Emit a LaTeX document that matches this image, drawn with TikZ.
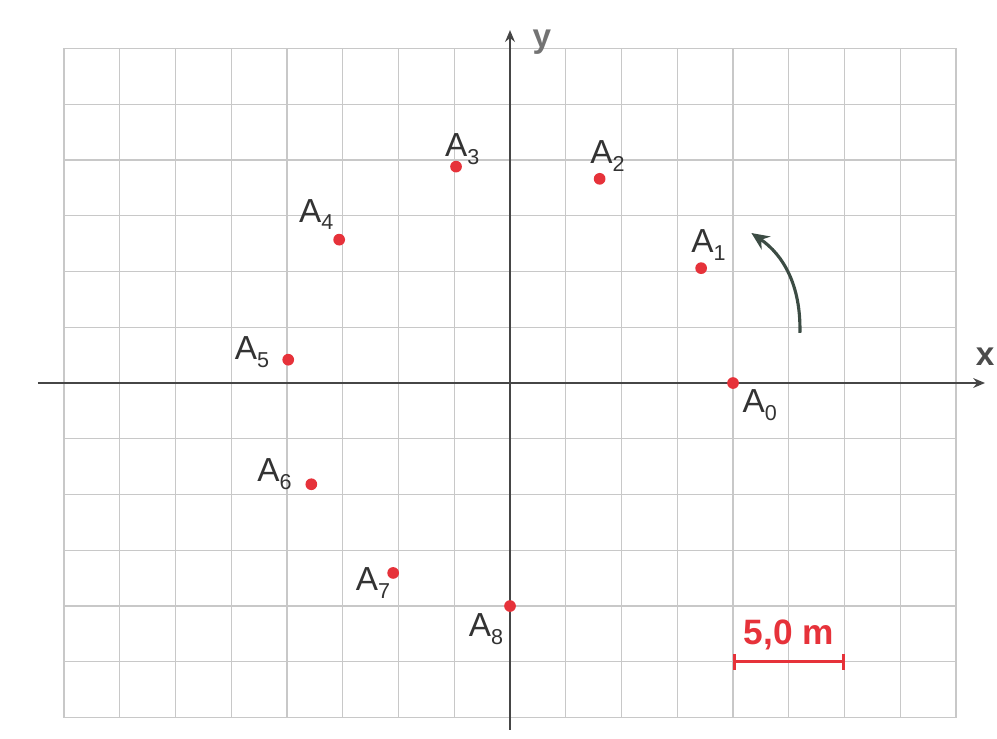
\documentclass[tikz,border=0pt]{standalone}
\usepackage{fontspec}
\setmainfont{Liberation Sans}
\usetikzlibrary{arrows.meta,calc}
\definecolor{gridgray}{RGB}{200,200,200}
\definecolor{axisgray}{RGB}{70,70,70}
\definecolor{ptred}{RGB}{230,50,58}
\definecolor{arrowgreen}{RGB}{60,76,68}
\newcommand{\Alab}[1]{A\raisebox{-4pt}{\fontsize{11}{11}\selectfont #1}}

\begin{document}
\begin{tikzpicture}[>=Stealth,
    pt/.style={circle, fill=ptred, inner sep=0pt, minimum size=0.21cm},
    lbl/.style={text=black!80, font=\fontsize{17}{19}\selectfont, inner sep=0pt}]
    \useasboundingbox (-9.148,-6.368) rectangle (8.735,6.870);

    % quadrillage
    \draw[gridgray, line width=0.6pt] (-8,-6) grid (8,6);

    % axes
    \draw[-{Stealth[length=6pt,width=5pt]}, axisgray, line width=1pt] (-8.47,0) -- (8.52,0);
    \draw[-{Stealth[length=6pt,width=5pt]}, axisgray, line width=1pt] (0,-6.22) -- (0,6.33);
    \node[text=black!70, font=\bfseries\fontsize{17}{19}\selectfont] (xlab) at (8.52,0.47) {x};
    \node[text=black!55, font=\bfseries\fontsize{17}{19}\selectfont] (ylab) at (0.57,6.12) {y};

    % positions successives
    \foreach \i/\a in {0/0, 1/31, 2/66.3, 3/104, 4/140, 5/174, 6/207, 7/238.4, 8/270}
        \node[pt] (A\i) at (\a:4) {};

    % noms des points
    \foreach \i/\dx/\dy in {0/0.48/-0.39, 1/0.13/0.41, 2/0.14/0.41, 3/0.11/0.32, 4/-0.41/0.45,
                            5/-0.65/0.14, 6/-0.66/0.18, 7/-0.36/-0.18, 8/-0.43/-0.41}
        \node[lbl] (l\i) at ($(A\i)+(\dx,\dy)$) {\Alab{\i}};

    % sens du mouvement
    \coordinate (r0) at (5.2,0.9);
    \coordinate (r1) at (4.33,2.69);
    \draw[-{Stealth[length=9pt,width=8pt]}, arrowgreen, line width=1.6pt]
        (r0) .. controls (5.22,1.75) and (4.9,2.3) .. (r1);

    % echelle
    \coordinate (s0) at (4,-5);
    \coordinate (s1) at (6,-5);
    \draw[{Bar[width=8pt]}-{Bar[width=8pt]}, ptred, line width=1.5pt] (s0) -- (s1);
    \node[text=ptred, font=\bfseries\fontsize{18}{20}\selectfont] (scl) at (5.0,-4.52) {5,0 m};
\end{tikzpicture}
\end{document}
